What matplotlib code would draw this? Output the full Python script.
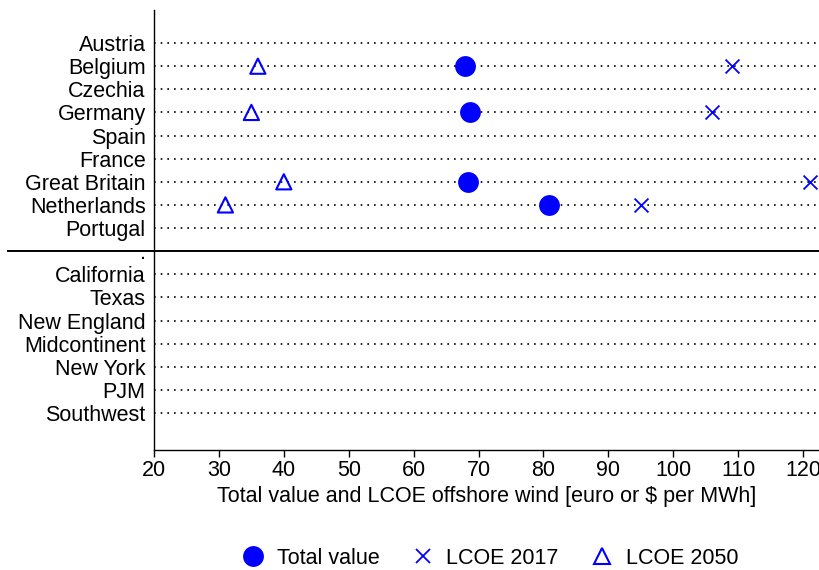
import matplotlib
matplotlib.use("Agg")
import matplotlib.pyplot as plt
from matplotlib.lines import Line2D

plt.rcParams['font.family'] = ['Liberation Sans', 'DejaVu Sans']

categories = ["Austria", "Belgium", "Czechia", "Germany", "Spain", "France",
              "Great Britain", "Netherlands", "Portugal", ".",
              "California", "Texas", "New England", "Midcontinent",
              "New York", "PJM", "Southwest"]
sep_label = "."

val_countries = ["Belgium", "Germany", "Great Britain", "Netherlands"]
total_value = [67.9, 68.7, 68.3, 80.9]
lcoe_2017 = [109, 106, 121, 95]
lcoe_2050 = [36, 35, 40, 31]

xticks = [20, 30, 40, 50, 60, 70, 80, 90, 100, 110, 120]
xlabel = "Total value and LCOE offshore wind [euro or $ per MWh]"

blue = "#0000ff"
fs = 15.5

fig = plt.figure(figsize=(8.2, 5.7), dpi=100)
ax = fig.add_axes([154/820, 1 - 450/570, 1 - 154/820, (450 - 10)/570])

ypos = {c: i for i, c in enumerate(categories)}
sep_y = ypos[sep_label]

for c in categories:
    if c == sep_label:
        continue
    ax.axhline(ypos[c], color="black", linestyle=(0, (1, 3)), linewidth=1.2, zorder=1)

ys = [ypos[c] for c in val_countries]
ax.scatter(total_value, ys, marker="o", s=225, color=blue, zorder=3, linewidths=0)
ax.scatter(lcoe_2017, ys, marker="x", s=100, color=blue, zorder=3, linewidths=1.3)
ax.scatter(lcoe_2050, ys, marker="^", s=120, facecolors="none", edgecolors=blue, zorder=3, linewidths=1.5)

ax.set_xlim(20, 122.6)
ax.set_ylim(len(categories) - 1 + 1.6, -1.43)
ax.set_yticks(range(len(categories)))
ax.set_yticklabels(categories, fontsize=fs)
ax.tick_params(axis="y", length=0, pad=6)
ax.set_xticks(xticks)
ax.set_xticklabels([str(t) for t in xticks], fontsize=fs)
ax.tick_params(axis="x", length=5, width=1, direction="out", pad=2)
ax.set_xlabel(xlabel, fontsize=fs, labelpad=4)

for s in ["top", "right"]:
    ax.spines[s].set_visible(False)
for s in ["left", "bottom"]:
    ax.spines[s].set_linewidth(1.0)

# separator line spanning label area too
x0_axes = (8 - 154) / (820 - 154)
ax.plot([x0_axes, 1.0], [sep_y, sep_y], color="black", linewidth=1.4,
        transform=ax.get_yaxis_transform(), clip_on=False, zorder=2)

handles = [
    Line2D([], [], marker="o", color=blue, linestyle="none", markersize=15, markeredgewidth=0),
    Line2D([], [], marker="x", color=blue, linestyle="none", markersize=10, markeredgewidth=1.3),
    Line2D([], [], marker="^", markerfacecolor="none", markeredgecolor=blue, linestyle="none",
           markersize=11, markeredgewidth=1.5),
]
fig.legend(handles, ["Total value", "LCOE 2017", "LCOE 2050"], loc="center",
           bbox_to_anchor=(487/820, 1 - 558/570), ncol=3, frameon=False, fontsize=fs,
           handletextpad=0.3, columnspacing=1.2, handlelength=1.6,
           borderpad=0.1)

fig.savefig("out.png", dpi=100)
